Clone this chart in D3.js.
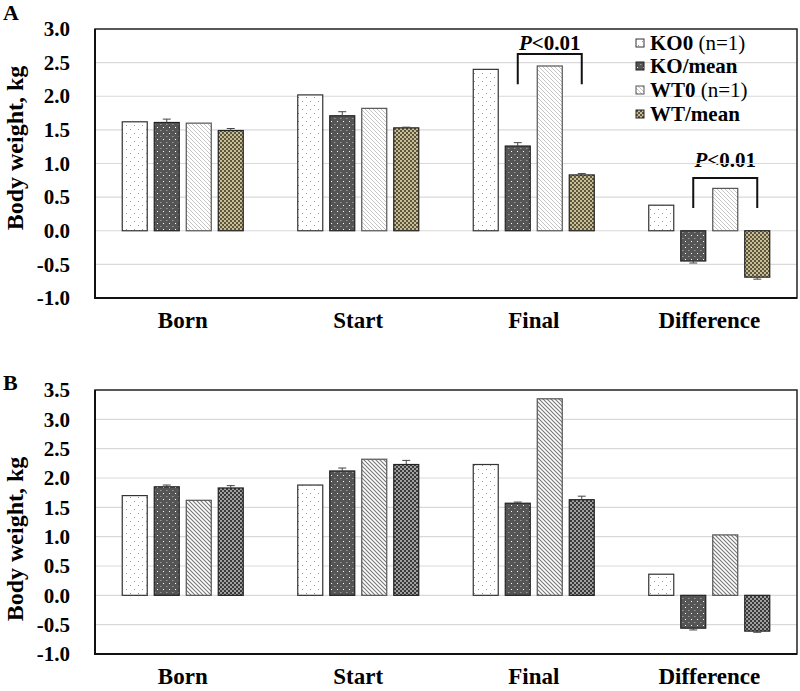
<!DOCTYPE html>
<html><head><meta charset="utf-8">
<script src="https://cdn.jsdelivr.net/npm/d3@7/dist/d3.min.js"></script>
<style>body{margin:0;background:#fff}svg{display:block;font-family:"Liberation Serif","Times New Roman",serif}</style>
</head><body>
<svg id="c" width="800" height="691"></svg>
<script>
const categories = ["Born","Start","Final","Difference"];
const seriesKeys = ["KO0","KOmean","WT0","WTmean"];
const legendBold = ["KO0","KO/mean","WT0","WT/mean"];
const legendNormal = [" (n=1)",""," (n=1)",""];
const ticksA = [-1.0,-0.5,0.0,0.5,1.0,1.5,2.0,2.5,3.0];
const ticksB = [-1.0,-0.5,0.0,0.5,1.0,1.5,2.0,2.5,3.0,3.5];

// Panel A
const aKO0    = [1.62, 2.02, 2.40, 0.38];
const aKOmean = [1.61, 1.71, 1.26, -0.45];
const aKOerr  = [0.05, 0.06, 0.05, 0.03];
const aWT0    = [1.60, 1.82, 2.45, 0.63];
const aWTmean = [1.49, 1.53, 0.83, -0.69];
const aWTerr  = [0.03, 0.01, 0.02, 0.03];
// Panel B
const bKO0    = [1.70, 1.88, 2.23, 0.36];
const bKOmean = [1.85, 2.12, 1.57, -0.56];
const bKOerr  = [0.03, 0.05, 0.02, 0.03];
const bWT0    = [1.62, 2.32, 3.35, 1.03];
const bWTmean = [1.83, 2.23, 1.63, -0.61];
const bWTerr  = [0.04, 0.07, 0.06, 0.02];

const svg = d3.select("#c");
const defs = svg.append("defs");

function pat(id, w, h, draw){
  const p = defs.append("pattern").attr("id",id).attr("patternUnits","userSpaceOnUse").attr("width",w).attr("height",h);
  draw(p);
}
pat("pKO0",8,8,p=>{
  p.append("rect").attr("width",8).attr("height",8).attr("fill","#fff");
  p.append("rect").attr("x",2).attr("y",1).attr("width",1).attr("height",1).attr("fill","#8a9cb0");
  p.append("rect").attr("x",6).attr("y",5).attr("width",1).attr("height",1).attr("fill","#8a9cb0");
});
pat("pKOmean",6,6,p=>{
  p.append("rect").attr("width",6).attr("height",6).attr("fill","#555");
  p.append("rect").attr("x",1).attr("y",1).attr("width",1).attr("height",1).attr("fill","#fff");
  p.append("rect").attr("x",4).attr("y",4).attr("width",1.5).attr("height",1).attr("fill","#999");
});
function diag(id, col, sw){
  pat(id,4,4,p=>{
    p.append("rect").attr("width",4).attr("height",4).attr("fill","#fff");
    p.append("path").attr("d","M-1,-1 L5,5 M-1,3 L1,5 M3,-1 L5,1").attr("stroke",col).attr("stroke-width",sw);
  });
}
diag("pWT0a","#bdbdbd",0.9);
diag("pWT0b","#777",1.1);
function checker(id, dark, light){
  pat(id,4,4,p=>{
    p.append("rect").attr("width",4).attr("height",4).attr("fill",dark);
    p.append("rect").attr("x",0).attr("y",0).attr("width",2).attr("height",2).attr("fill",light);
    p.append("rect").attr("x",2).attr("y",2).attr("width",2).attr("height",2).attr("fill",light);
  });
}
checker("pWTmeanA","#5c5540","#c9bd92");
checker("pWTmeanB","#3a3a3a","#a0a0a0");

const L = 95, R = 797;
const x0 = d3.scaleBand().domain(categories).range([L,R]).padding(0);
const x1 = d3.scaleBand().domain(seriesKeys)
  .range([x0.bandwidth()/2-64, x0.bandwidth()/2+64]).paddingInner(7/32).paddingOuter(7/64);

function panel(cfg){
  const y = d3.scaleLinear().domain(cfg.domain).range([cfg.bottom,cfg.top]);
  const g = svg.append("g");
  const annG = g.append("g");
  // gridlines
  g.append("g").selectAll("line").data(cfg.ticks.filter(t=>t!==cfg.domain[1] && t!==cfg.domain[0])).join("line")
    .attr("x1",L).attr("x2",R).attr("y1",d=>y(d)).attr("y2",d=>y(d))
    .attr("stroke","#d9d9d9").attr("stroke-width",1.2);
  // y axis labels
  const ax = d3.axisLeft(y).tickValues(cfg.ticks).tickSize(0).tickPadding(25);
  const ag = g.append("g").attr("transform",`translate(${L},0)`).call(ax);
  ag.select(".domain").remove();
  ag.selectAll("text").attr("font-size",21).attr("font-weight","bold").attr("fill","#000")
    .attr("font-family","Liberation Serif, serif").text(d=>d3.format(".1f")(d).replace("−","-"));
  // bars
  const fills = {KO0:"url(#pKO0)",KOmean:"url(#pKOmean)",WT0:cfg.wt0fill,WTmean:cfg.wtmfill};
  const strokes = {KO0:"#333",KOmean:"#222",WT0:"#555",WTmean:"#222"};
  const vals = {KO0:cfg.ko0,KOmean:cfg.kom,WT0:cfg.wt0,WTmean:cfg.wtm};
  const errs = {KOmean:cfg.koe,WTmean:cfg.wte};
  categories.forEach((c,i)=>{
    seriesKeys.forEach(k=>{
      const v = vals[k][i];
      const bx = x0(c)+x1(k), bw = x1.bandwidth();
      g.append("rect").attr("x",bx).attr("width",bw)
        .attr("y",Math.min(y(v),y(0))).attr("height",Math.abs(y(v)-y(0)))
        .attr("fill",fills[k]).attr("stroke",strokes[k]).attr("stroke-width",1.2);
      if(errs[k]){
        const e = errs[k][i]*(v<0?-1:1);
        const cx = bx+bw/2;
        g.append("line").attr("x1",cx).attr("x2",cx).attr("y1",y(v)).attr("y2",y(v+e)).attr("stroke","#444").attr("stroke-width",1);
        g.append("line").attr("x1",cx-4).attr("x2",cx+4).attr("y1",y(v+e)).attr("y2",y(v+e)).attr("stroke","#444").attr("stroke-width",1);
      }
    });
  });
  // frame
  g.append("rect").attr("x",L).attr("y",cfg.top).attr("width",R-L).attr("height",cfg.bottom-cfg.top)
    .attr("fill","none").attr("stroke","#222").attr("stroke-width",1.5);
  g.append("path").attr("d",`M${L},${cfg.top} V${cfg.bottom} H${R}`).attr("fill","none").attr("stroke","#111").attr("stroke-width",2);
  // category labels
  g.append("g").selectAll("text").data(categories).join("text")
    .attr("x",d=>x0(d)+x0.bandwidth()/2).attr("y",cfg.catY).attr("text-anchor","middle")
    .attr("font-size",23).attr("font-weight","bold").text(d=>d);
  // y title
  g.append("text").attr("transform",`translate(${cfg.titleX},${cfg.titleY}) rotate(-90)`)
    .attr("text-anchor","middle").attr("font-size",24).attr("font-weight","bold").text("Body weight, kg");
  // panel letter
  g.append("text").attr("x",3).attr("y",cfg.letterY).attr("font-size",22).attr("font-weight","bold").text(cfg.letter);
  // annotations
  (cfg.ann||[]).forEach(a=>{
    const xa = x0(a.cat)+x1("KOmean")+x1.bandwidth()/2;
    const xb = x0(a.cat)+x1("WTmean")+x1.bandwidth()/2;
    const t = annG.append("text").attr("x",(xa+xb)/2).attr("y",y(a.textV)).attr("text-anchor","middle")
      .attr("font-size",21).attr("font-weight","bold");
    t.append("tspan").attr("font-style","italic").text("P");
    t.append("tspan").text("<0.01");
    g.append("path").attr("d",`M${xa},${y(a.legV)} V${y(a.topV)} H${xb} V${y(a.legV)}`)
      .attr("fill","none").attr("stroke","#111").attr("stroke-width",2);
  });
  return {g,y};
}

panel({domain:[-1,3],ticks:ticksA,top:29,bottom:298,
  ko0:aKO0,kom:aKOmean,koe:aKOerr,wt0:aWT0,wtm:aWTmean,wte:aWTerr,
  wt0fill:"url(#pWT0a)",wtmfill:"url(#pWTmeanA)",catY:328,titleX:23,titleY:148,letter:"A",letterY:20,
  ann:[{cat:"Final",textV:2.69,topV:2.63,legV:2.18},{cat:"Difference",textV:0.95,topV:0.785,legV:0.34}]});
panel({domain:[-1,3.5],ticks:ticksB,top:390,bottom:654,
  ko0:bKO0,kom:bKOmean,koe:bKOerr,wt0:bWT0,wtm:bWTmean,wte:bWTerr,
  wt0fill:"url(#pWT0b)",wtmfill:"url(#pWTmeanB)",catY:684,titleX:23,titleY:539,letter:"B",letterY:390});

// legend (panel A)
const legFills = ["url(#pKO0)","url(#pKOmean)","url(#pWT0a)","url(#pWTmeanA)"];
const legStroke = ["#333","#222","#555","#222"];
const legRowY = [43,66,90,114];
const lg = svg.append("g");
seriesKeys.forEach((k,i)=>{
  lg.append("rect").attr("x",636).attr("y",legRowY[i]-4).attr("width",8).attr("height",8)
    .attr("fill",legFills[i]).attr("stroke",legStroke[i]).attr("stroke-width",1);
  const t = lg.append("text").attr("x",650).attr("y",legRowY[i]+7).attr("font-size",21);
  t.append("tspan").attr("font-weight","bold").text(legendBold[i]);
  if(legendNormal[i]) t.append("tspan").text(legendNormal[i]);
});
</script>
</body></html>
